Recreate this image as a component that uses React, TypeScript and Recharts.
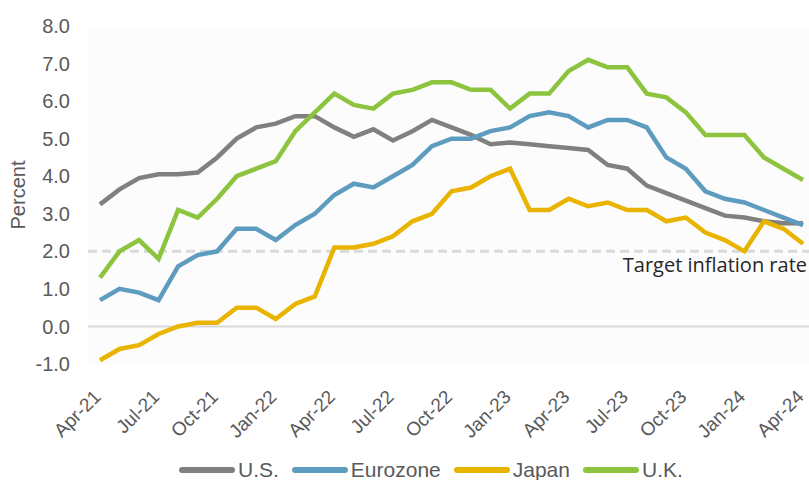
import React from "react";
import {
  LineChart,
  Line,
  XAxis,
  YAxis,
  CartesianGrid,
  ReferenceLine,
  Legend,
} from "recharts";

const months = [
  "Apr-21", "May-21", "Jun-21", "Jul-21", "Aug-21", "Sep-21", "Oct-21", "Nov-21", "Dec-21",
  "Jan-22", "Feb-22", "Mar-22", "Apr-22", "May-22", "Jun-22", "Jul-22", "Aug-22", "Sep-22",
  "Oct-22", "Nov-22", "Dec-22", "Jan-23", "Feb-23", "Mar-23", "Apr-23", "May-23", "Jun-23",
  "Jul-23", "Aug-23", "Sep-23", "Oct-23", "Nov-23", "Dec-23", "Jan-24", "Feb-24", "Mar-24",
  "Apr-24",
];

const usValues = [
  3.25, 3.65, 3.95, 4.05, 4.05, 4.1, 4.5, 5.0, 5.3, 5.4, 5.6, 5.6, 5.3, 5.05, 5.25, 4.95,
  5.2, 5.5, 5.3, 5.1, 4.85, 4.9, 4.85, 4.8, 4.75, 4.7, 4.3, 4.2, 3.75, 3.55, 3.35, 3.15,
  2.95, 2.9, 2.8, 2.75, 2.75,
];

const eurozoneValues = [
  0.7, 1.0, 0.9, 0.7, 1.6, 1.9, 2.0, 2.6, 2.6, 2.3, 2.7, 3.0, 3.5, 3.8, 3.7, 4.0, 4.3, 4.8,
  5.0, 5.0, 5.2, 5.3, 5.6, 5.7, 5.6, 5.3, 5.5, 5.5, 5.3, 4.5, 4.2, 3.6, 3.4, 3.3, 3.1, 2.9,
  2.7,
];

const japanValues = [
  -0.9, -0.6, -0.5, -0.2, 0.0, 0.1, 0.1, 0.5, 0.5, 0.2, 0.6, 0.8, 2.1, 2.1, 2.2, 2.4, 2.8,
  3.0, 3.6, 3.7, 4.0, 4.2, 3.1, 3.1, 3.4, 3.2, 3.3, 3.1, 3.1, 2.8, 2.9, 2.5, 2.3, 2.0, 2.8,
  2.6, 2.2,
];

const ukValues = [
  1.3, 2.0, 2.3, 1.8, 3.1, 2.9, 3.4, 4.0, 4.2, 4.4, 5.2, 5.7, 6.2, 5.9, 5.8, 6.2, 6.3, 6.5,
  6.5, 6.3, 6.3, 5.8, 6.2, 6.2, 6.8, 7.1, 6.9, 6.9, 6.2, 6.1, 5.7, 5.1, 5.1, 5.1, 4.5, 4.2,
  3.9,
];

const yTicks = [-1, 0, 1, 2, 3, 4, 5, 6, 7, 8];
const targetRate = 2;

const series = [
  { key: "us", name: "U.S.", color: "#808080" },
  { key: "ez", name: "Eurozone", color: "#5e9cbf" },
  { key: "jp", name: "Japan", color: "#e8b400" },
  { key: "uk", name: "U.K.", color: "#8cc43e" },
];

const data = months.map((month, i) => ({
  month,
  us: usValues[i],
  ez: eurozoneValues[i],
  jp: japanValues[i],
  uk: ukValues[i],
}));

const FONT = '"Liberation Sans", Arial, sans-serif';
const TEXT = "#595959";

// rotated month labels, end of text sits under the point
const XTick = ({ x, y, payload }: any) => {
  const px = x + 2;
  const py = y + 34;
  return (
    <text
      x={px}
      y={py}
      transform={`rotate(-45 ${px} ${py})`}
      textAnchor="end"
      fill={TEXT}
      fontSize={19}
      fontFamily={FONT}
    >
      {payload.value}
    </text>
  );
};

const renderLegend = () => (
  <div
    style={{
      display: "flex",
      alignItems: "center",
      height: 36,
      paddingLeft: 178,
      paddingTop: 15,
      boxSizing: "border-box",
      fontFamily: FONT,
      fontSize: 21,
      color: TEXT,
    }}
  >
    {series.map((s) => (
      <div key={s.key} style={{ display: "flex", alignItems: "center", marginRight: 12 }}>
        <svg width={58} height={8}>
          <line x1={4} y1={4} x2={54} y2={4} stroke={s.color} strokeWidth={6} strokeLinecap="round" />
        </svg>
        <span style={{ marginLeft: 2 }}>{s.name}</span>
      </div>
    ))}
  </div>
);

const App: React.FC = () => {
  return (
    <div style={{ position: "absolute", left: 0, top: 0, background: "#fff" }}>
      <LineChart
        width={809}
        height={480}
        data={data}
        margin={{ top: 26, right: 0, bottom: 0, left: 0 }}
      >
        <CartesianGrid horizontal={false} vertical={false} fill="#fcfcfc" />
        <XAxis
          dataKey="month"
          interval={2}
          axisLine={false}
          tickLine={false}
          tickSize={0}
          tickMargin={0}
          height={80}
          padding={{ left: 12, right: 6 }}
          tick={<XTick />}
        />
        <YAxis
          domain={[-1, 8]}
          ticks={yTicks}
          interval={0}
          width={88}
          axisLine={false}
          tickLine={false}
          tickSize={0}
          tickMargin={18}
          tickFormatter={(v: number) => v.toFixed(1)}
          tick={{ fill: TEXT, fontSize: 20, fontFamily: FONT }}
          label={() => (
            <text
              x={18}
              y={195}
              transform="rotate(-90 18 195)"
              textAnchor="middle"
              dominantBaseline="central"
              fill={TEXT}
              fontSize={20}
              fontFamily={FONT}
            >
              Percent
            </text>
          )}
        />
        <ReferenceLine y={0} stroke="#d9d9d9" strokeWidth={2} />
        <ReferenceLine
          y={targetRate}
          stroke="#d9d9d9"
          strokeWidth={3}
          strokeDasharray="9 5"
          label={{
            value: "Target inflation rate",
            position: "insideBottomRight",
            dy: 26,
            dx: 3,
            fill: "#262626",
            fontSize: 20,
            fontFamily: '"Open Sans", sans-serif',
          }}
        />
        <Legend verticalAlign="bottom" content={renderLegend} />
        {series.map((s) => (
          <Line
            key={s.key}
            type="linear"
            dataKey={s.key}
            name={s.name}
            stroke={s.color}
            strokeWidth={4.5}
            dot={false}
            isAnimationActive={false}
          />
        ))}
      </LineChart>
    </div>
  );
};

export default App;
